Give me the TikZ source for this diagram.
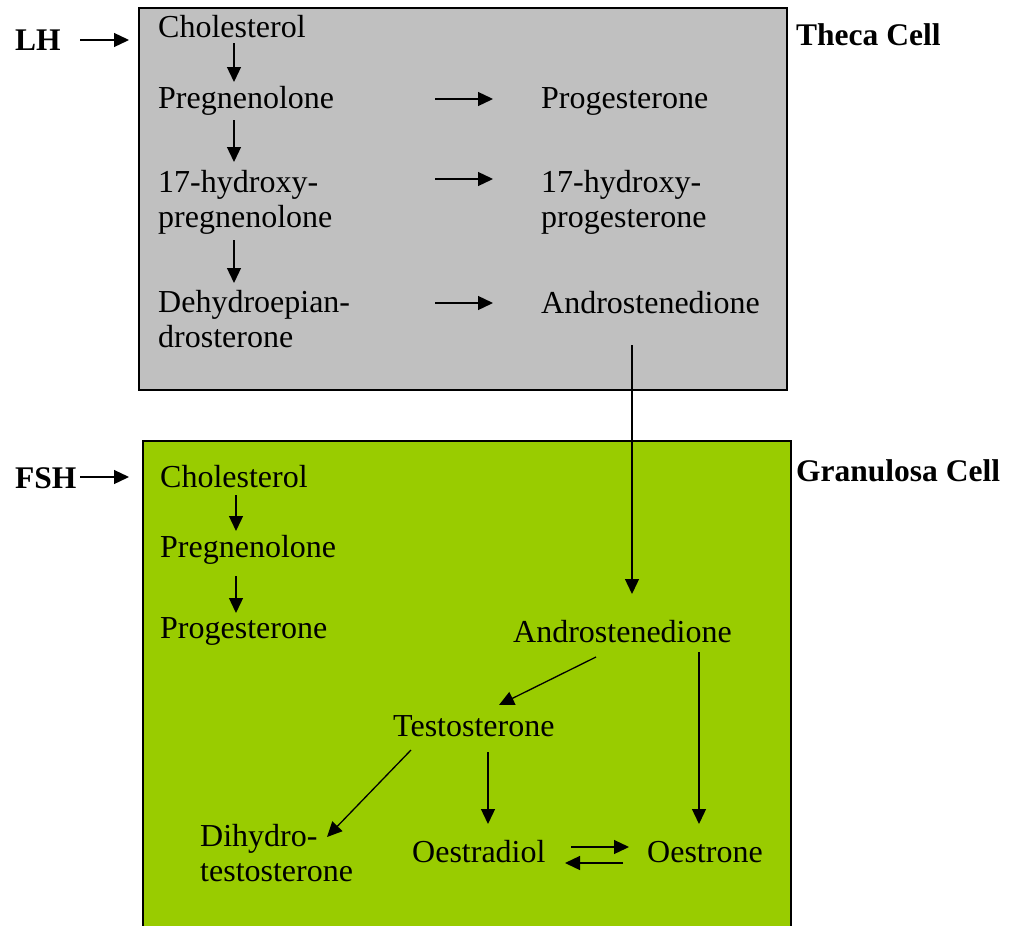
\documentclass[tikz,border=0pt]{standalone}
\usepackage{fontspec}
\setmainfont{Liberation Serif}
\usetikzlibrary{arrows.meta}
\definecolor{thecagray}{HTML}{C0C0C0}
\definecolor{granugreen}{HTML}{99CC00}
\tikzset{
  txt/.style={inner sep=0pt, anchor=base west, align=left, font=\fontsize{32}{35}\selectfont},
  lbl/.style={inner sep=0pt, anchor=base west, font=\fontsize{31.5}{35}\selectfont\bfseries},
  arr/.style={line width=1.3pt, -{Triangle[length=15pt,width=14pt]}},
}
\begin{document}
\begin{tikzpicture}[x=1pt,y=-1pt]
\useasboundingbox (0,0) rectangle (1012,926);
% boxes
\fill[thecagray] (139,8) rectangle (787,390);
\draw[line width=1.5pt] (139,8) rectangle (787,390);
\fill[granugreen] (143,441) rectangle (791,926);
\draw[line width=1.5pt] (143,926) -- (143,441) -- (791,441) -- (791,926);
% labels
\node[lbl] (lh) at (15,50) {LH};
\node[lbl] (fsh) at (15,488) {FSH};
\node[lbl] (theca) at (796,45) {Theca Cell};
\node[lbl] (granu) at (796,481) {Granulosa Cell};
% theca texts (multi-line nodes: base = last line)
\node[txt] (tchol) at (158,37) {Cholesterol};
\node[txt] (tpreg) at (158,108) {Pregnenolone};
\node[txt] (thp) at (158,227) {17-hydroxy-\\pregnenolone};
\node[txt] (tdhea) at (158,347) {Dehydroepian-\\drosterone};
\node[txt] (tprog) at (541,108) {Progesterone};
\node[txt] (thprog) at (541,227) {17-hydroxy-\\progesterone};
\node[txt] (tandro) at (541,313) {Androstenedione};
% granulosa texts
\node[txt] (gchol) at (160,487) {Cholesterol};
\node[txt] (gpreg) at (160,557) {Pregnenolone};
\node[txt] (gprog) at (160,638) {Progesterone};
\node[txt] (gandro) at (513,642) {Androstenedione};
\node[txt] (gtest) at (393,736) {Testosterone};
\node[txt] (gdht) at (200,881) {Dihydro-\\testosterone};
\node[txt] (goes) at (412,862) {Oestradiol};
\node[txt] (gone) at (647,862) {Oestrone};
% connector end points
\coordinate (lhs) at (80,40);   \coordinate (lhe) at (129,40);
\coordinate (fshs) at (80,477); \coordinate (fshe) at (129,477);
\coordinate (a1s) at (234,43);  \coordinate (a1e) at (234,82);
\coordinate (a2s) at (234,120); \coordinate (a2e) at (234,162);
\coordinate (a3s) at (234,240); \coordinate (a3e) at (234,283);
\coordinate (h1s) at (435,99);  \coordinate (h1e) at (493,99);
\coordinate (h2s) at (435,179); \coordinate (h2e) at (493,179);
\coordinate (h3s) at (435,303); \coordinate (h3e) at (493,303);
\coordinate (ls) at (632,345);  \coordinate (le) at (632,594);
\coordinate (g1s) at (236,495); \coordinate (g1e) at (236,531);
\coordinate (g2s) at (236,576); \coordinate (g2e) at (236,613);
\coordinate (d1s) at (596,657); \coordinate (d1e) at (499,705);
\coordinate (d2s) at (411,750); \coordinate (d2e) at (327,837);
\coordinate (d3s) at (488,752); \coordinate (d3e) at (488,824);
\coordinate (d4s) at (699,652); \coordinate (d4e) at (699,824);
\coordinate (e1s) at (571,847); \coordinate (e1e) at (629,847);
\coordinate (e2s) at (623,863); \coordinate (e2e) at (565,863);
% arrows
\draw[arr] (lhs) -- (lhe);
\draw[arr] (fshs) -- (fshe);
\draw[arr] (a1s) -- (a1e);
\draw[arr] (a2s) -- (a2e);
\draw[arr] (a3s) -- (a3e);
\draw[arr] (h1s) -- (h1e);
\draw[arr] (h2s) -- (h2e);
\draw[arr] (h3s) -- (h3e);
\draw[arr] (ls) -- (le);
\draw[arr] (g1s) -- (g1e);
\draw[arr] (g2s) -- (g2e);
\draw[arr] (d1s) -- (d1e);
\draw[arr] (d2s) -- (d2e);
\draw[arr] (d3s) -- (d3e);
\draw[arr] (d4s) -- (d4e);
\draw[arr] (e1s) -- (e1e);
\draw[arr] (e2s) -- (e2e);
\end{tikzpicture}
\end{document}
